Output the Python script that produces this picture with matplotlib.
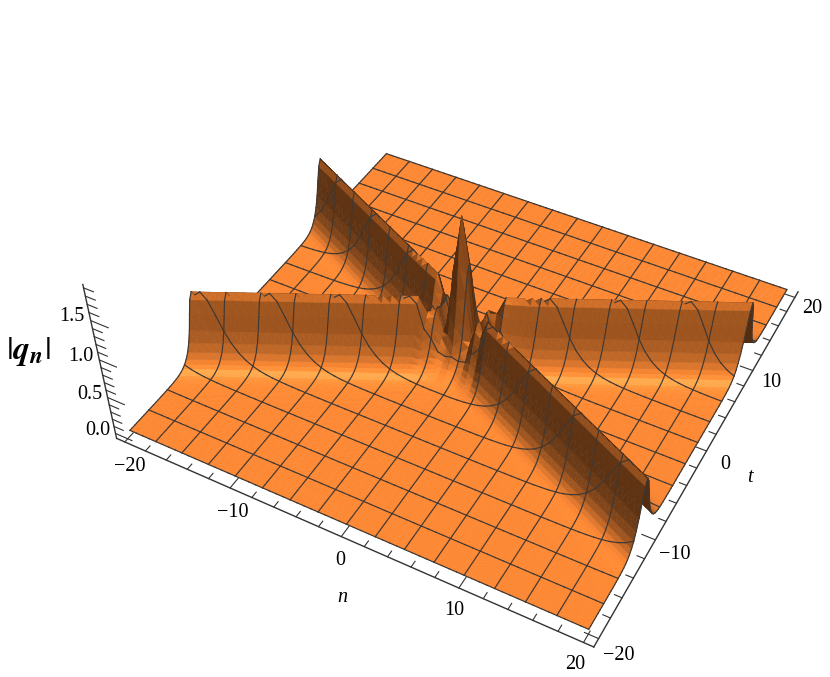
import numpy as np
import matplotlib
matplotlib.use("Agg")
import matplotlib.pyplot as plt
from mpl_toolkits.mplot3d.art3d import Poly3DCollection, Line3DCollection

# |q_n| x 1000.
# one quadrant only, measured from the crossing of the two ridges
n_step = 0.625
t_step = 0.3125
# rows around the big peak, one row per n, entries step t_step in t
center_rows = [
    [1880, 1720, 1320, 880, 560, 350, 230, 160, 110, 80, 55, 35, 22, 14, 9, 6, 4, 2, 1, 1],
    [1300, 1200, 950, 680, 430, 290, 205, 145, 102, 72, 51, 34, 22, 14, 9, 6, 4, 3, 2, 1],
    [340, 350, 390, 410, 365, 300, 230, 170, 128, 90, 60, 38, 26, 17, 10, 7, 4, 3, 2, 1],
    [640, 650, 680, 680, 610, 510, 380, 270, 187, 128, 85, 55, 34, 21, 14, 9, 6, 3, 3, 2, 1],
    [260, 290, 380, 530, 640, 590, 475, 340, 240, 160, 110, 77, 51, 33, 21, 14, 9, 6, 3, 3, 2, 1, 1],
    [370, 410, 500, 655, 800, 850, 780, 608, 430, 288, 190, 124, 80, 51, 33, 21, 14, 9, 6, 3, 3, 2, 1, 1],
    [246, 269, 337, 458, 625, 788, 850, 780, 607, 428, 288, 190, 124, 80, 51, 33, 21, 14, 9, 6, 3, 3, 2, 1, 1],
    [160, 174, 234, 319, 446, 617, 783, 850, 777, 604, 425, 286, 189, 123, 80, 51, 33, 21, 14, 9, 6, 3, 3, 2, 1, 1],
]
# section across a ridge away from the peak, from the crest outwards
ridge_profile = [850, 775, 605, 425, 287, 190, 124, 80, 51, 33, 21, 14, 9, 6, 4, 3, 2, 1, 1]

n_ticks = [-20, -10, 0, 10, 20]
t_ticks = [-20, -10, 0, 10, 20]
z_ticks = [0.0, 0.5, 1.0, 1.5]

ELEV, AZIM = 43, -61.8
XMAX = 20.8
ZMIN, ZMAX = -0.07, 1.8
BOX_Z = 0.37
N_SHIFT = 1  # the crossing sits one n step left of n = 0
T_SHIFT = 2  # and two t steps below t = 0

quad = np.zeros((33 + N_SHIFT, 65 + T_SHIFT))
for i, row in enumerate(center_rows):
    quad[i, :len(row)] = row
for i in range(len(center_rows), quad.shape[0]):
    for d, h in enumerate(ridge_profile):
        if i + d < quad.shape[1]:
            quad[i, i + d] += h
        if d > 0:
            quad[i, abs(i - d)] += h
quad = quad / 1000.0
Z = quad[np.abs(np.arange(-32, 33) + N_SHIFT)][:, np.abs(np.arange(-64, 65) + T_SHIFT)]
n = np.arange(-32, 33) * n_step
t = np.arange(-64, 65) * t_step
N, T = np.meshgrid(n, t, indexing="ij")

fig = plt.figure(figsize=(8.3, 6.77), dpi=100)
ax = fig.add_axes([0.0587, 0.0525, 1, 1], projection="3d")
ax.set_axis_off()
ax.computed_zorder = False
ax.set_proj_type("persp", focal_length=0.45)
ax.view_init(elev=ELEV, azim=AZIM)
ax.set_xlim(-XMAX, XMAX)
ax.set_ylim(-XMAX, XMAX)
ax.set_zlim(ZMIN, ZMAX)
ax.set_box_aspect((1, 1, BOX_Z), zoom=1.095)

sx = 2 * XMAX
sz = (ZMAX - ZMIN) / BOX_Z
scale = np.array([1 / sx, 1 / sx, 1 / sz])
light = np.array([0.29, -0.358, 1.0])
half_vec = light / np.linalg.norm(light)
base = np.array([253, 136, 51]) / 255.0

P = np.stack([N, T, Z], axis=-1)
nc, nt = P.shape[0], P.shape[1]


def shade(tris):
    a = (tris[:, 1] - tris[:, 0]) * scale
    b = (tris[:, 2] - tris[:, 0]) * scale
    nrm = np.cross(a, b)
    nrm = nrm / np.linalg.norm(nrm, axis=1, keepdims=True)
    inten = np.clip(nrm @ light, 0.32, 1.3)
    spec = np.clip(nrm @ half_vec, 0, 1) ** 60
    rgb = np.clip(inten[:, None] * base + 0.12 * spec[:, None], 0, 1)
    return np.column_stack([rgb, np.ones(len(rgb))])


# one pair of collections per t strip, far strips first: a height field painted
# from the back stays right even where the ridge walls are steep
for j in range(nt - 1):
    tris = []
    for i in range(nc - 1):
        p00, p10, p11, p01 = P[i, j], P[i + 1, j], P[i + 1, j + 1], P[i, j + 1]
        d1, d2 = abs(p00[2] - p11[2]), abs(p10[2] - p01[2])
        mid = (p00[0] + p11[0] + 2 * N_SHIFT * n_step) * (p00[1] + p11[1] + 2 * T_SHIFT * t_step)
        if d1 < d2 or (d1 == d2 and mid >= 0):
            tris += [[p00, p10, p11], [p00, p11, p01]]
        else:
            tris += [[p00, p10, p01], [p10, p11, p01]]
    tris = np.array(tris)
    cols = shade(tris)
    zo = 2 + (nt - j) * 0.01
    coll = Poly3DCollection(tris, facecolors=cols, edgecolors=cols, linewidths=0.4, zorder=zo)
    coll.set_clip_on(False)
    ax.add_collection3d(coll, autolim=False)

    segs = [[P[i, j], P[i, j + 1]] for i in range(0, nc, 4)]
    if (j + 1) % 8 == 0:
        segs += [[P[i, j + 1], P[i + 1, j + 1]] for i in range(nc - 1)]
    if j == 0:
        segs += [[P[i, 0], P[i + 1, 0]] for i in range(nc - 1)]
    mesh = Line3DCollection(segs, colors="#3f3833", linewidths=0.85, zorder=zo + 0.001,
                            capstyle="projecting")
    mesh.set_clip_on(False)
    ax.add_collection3d(mesh, autolim=False)

# axes
ax_col = "#333333"
ax.plot([-XMAX, XMAX], [-XMAX, -XMAX], [ZMIN, ZMIN], color=ax_col, lw=1, zorder=1, clip_on=False)
ax.plot([XMAX, XMAX], [-XMAX, XMAX], [ZMIN, ZMIN], color=ax_col, lw=1, zorder=1, clip_on=False)
ax.plot([-XMAX, -XMAX], [-XMAX, -XMAX], [ZMIN, 1.94], color=ax_col, lw=1, zorder=1, clip_on=False)
for v in range(-20, 21, 2):
    ln = 1.1 if v % 10 == 0 else 0.6
    ax.plot([v, v], [-XMAX, -XMAX + ln], [ZMIN, ZMIN], color=ax_col, lw=0.8, zorder=1, clip_on=False)
    ax.plot([XMAX, XMAX - ln], [v, v], [ZMIN, ZMIN], color=ax_col, lw=0.8, zorder=1, clip_on=False)
for v in np.arange(0, 1.95, 0.1):
    ln = 1.6 if round(v * 10) % 5 == 0 else 0.9
    ax.plot([-XMAX, -XMAX + ln], [-XMAX, -XMAX], [v, v], color=ax_col, lw=0.8, zorder=1, clip_on=False)

plt.rcParams["font.family"] = "Liberation Serif"
fs = 14.5
for v in n_ticks:
    ax.text(v * 0.96 + 1.1, -22.7, ZMIN, str(v).replace("-", "\u2212"), ha="center", va="center", fontsize=fs)
for v in t_ticks:
    ax.text(22.6, v - 0.6, ZMIN, str(v).replace("-", "\u2212"), ha="center", va="center", fontsize=fs)
for v in z_ticks:
    ax.text(-21.9, -21.5, v + 0.06, f"{v:.1f}", ha="center", va="center", fontsize=fs)
ax.text(3.0, -25.5, ZMIN, "n", style="italic", ha="center", va="center", fontsize=fs)
ax.text(24.8, -1.0, ZMIN, "t", style="italic", ha="center", va="center", fontsize=fs)

plt.rcParams["mathtext.fontset"] = "stix"
fig.text(28 / 830, 1 - 352 / 677, r"$|\mathbfit{q}_{\mathbfit{n}}|$", ha="center", va="center", fontsize=24)

fig.savefig("out.png", dpi=100)
